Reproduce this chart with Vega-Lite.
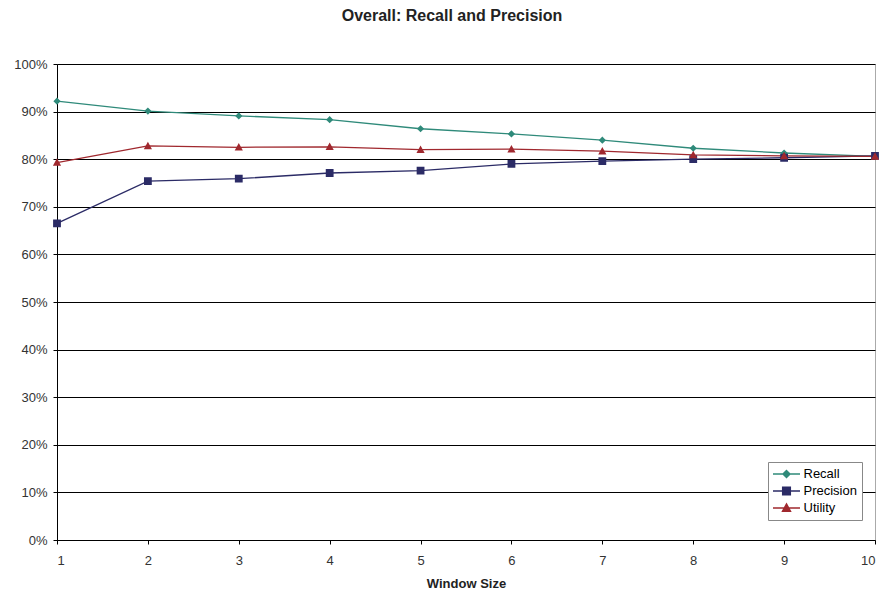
{
  "$schema": "https://vega.github.io/schema/vega-lite/v6.json",
  "autosize": "none",
  "width": 818,
  "height": 476,
  "padding": {"left": 57, "top": 64, "right": 10, "bottom": 52},
  "background": "white",
  "title": {
    "text": "Overall: Recall and Precision",
    "font": "Liberation Sans",
    "fontSize": 16,
    "fontWeight": "bold",
    "color": "#222222",
    "anchor": "middle",
    "dx": -14,
    "offset": 34
  },
  "config": {
    "view": {"stroke": "#aaaaaa", "strokeWidth": 1},
    "axis": {
      "labelFont": "Liberation Sans",
      "labelFontSize": 13,
      "labelColor": "#333333",
      "titleFont": "Liberation Sans",
      "titleFontSize": 13,
      "titleFontWeight": "bold",
      "titleColor": "#222222",
      "domainColor": "#000000",
      "tickColor": "#000000",
      "tickSize": 4
    }
  },
  "data": {
    "values": [
      {"window": 1, "series": "Recall", "value": 0.922},
      {"window": 2, "series": "Recall", "value": 0.901},
      {"window": 3, "series": "Recall", "value": 0.891},
      {"window": 4, "series": "Recall", "value": 0.883},
      {"window": 5, "series": "Recall", "value": 0.864},
      {"window": 6, "series": "Recall", "value": 0.853},
      {"window": 7, "series": "Recall", "value": 0.840},
      {"window": 8, "series": "Recall", "value": 0.823},
      {"window": 9, "series": "Recall", "value": 0.813},
      {"window": 10, "series": "Recall", "value": 0.806},
      {"window": 1, "series": "Precision", "value": 0.665},
      {"window": 2, "series": "Precision", "value": 0.754},
      {"window": 3, "series": "Precision", "value": 0.759},
      {"window": 4, "series": "Precision", "value": 0.771},
      {"window": 5, "series": "Precision", "value": 0.776},
      {"window": 6, "series": "Precision", "value": 0.790},
      {"window": 7, "series": "Precision", "value": 0.796},
      {"window": 8, "series": "Precision", "value": 0.800},
      {"window": 9, "series": "Precision", "value": 0.803},
      {"window": 10, "series": "Precision", "value": 0.807},
      {"window": 1, "series": "Utility", "value": 0.793},
      {"window": 2, "series": "Utility", "value": 0.828},
      {"window": 3, "series": "Utility", "value": 0.825},
      {"window": 4, "series": "Utility", "value": 0.826},
      {"window": 5, "series": "Utility", "value": 0.820},
      {"window": 6, "series": "Utility", "value": 0.821},
      {"window": 7, "series": "Utility", "value": 0.817},
      {"window": 8, "series": "Utility", "value": 0.809},
      {"window": 9, "series": "Utility", "value": 0.807},
      {"window": 10, "series": "Utility", "value": 0.806}
    ]
  },
  "encoding": {
    "x": {
      "field": "window",
      "type": "quantitative",
      "scale": {"domain": [1, 10], "nice": false},
      "axis": {
        "title": "Window Size",
        "values": [1, 2, 3, 4, 5, 6, 7, 8, 9, 10],
        "format": "d",
        "grid": false,
        "labelPadding": 10,
        "titlePadding": 10
      }
    },
    "y": {
      "field": "value",
      "type": "quantitative",
      "scale": {"domain": [0, 1], "nice": false},
      "axis": {
        "title": null,
        "values": [0, 0.1, 0.2, 0.3, 0.4, 0.5, 0.6, 0.7, 0.8, 0.9, 1],
        "format": ".0%",
        "grid": true,
        "gridColor": "#000000",
        "gridWidth": 1,
        "labelPadding": 6
      }
    },
    "color": {
      "field": "series",
      "type": "nominal",
      "sort": ["Recall", "Precision", "Utility"],
      "scale": {
        "domain": ["Recall", "Precision", "Utility"],
        "range": ["#2f8a7a", "#2b2b66", "#a0282e"]
      },
      "legend": {
        "title": null,
        "orient": "none",
        "legendX": 711,
        "legendY": 398,
        "padding": 5,
        "strokeColor": "#888888",
        "fillColor": "#ffffff",
        "labelFont": "Liberation Sans",
        "labelFontSize": 13,
        "labelColor": "#000000",
        "symbolOffset": 6.5,
        "labelOffset": 10,
        "rowPadding": 3,
        "symbolSize": 144,
        "symbolStrokeWidth": 1.3
      }
    },
    "shape": {
      "field": "series",
      "type": "nominal",
      "scale": {
        "domain": ["Recall", "Precision", "Utility"],
        "range": [
          "M-2.25,0H2.25M0,-0.6L0.6,0L0,0.6L-0.6,0Z",
          "M-2.25,0H2.25M-0.65,-0.65H0.65V0.65H-0.65Z",
          "M-2.25,0H2.25M0,-0.7L0.68,0.55H-0.68Z"
        ]
      }
    }
  },
  "layer": [
    {
      "mark": {"type": "line", "strokeWidth": 1.3}
    },
    {
      "mark": {"type": "point", "filled": true, "opacity": 1, "strokeWidth": 0},
      "encoding": {
        "size": {"value": 144}
      }
    }
  ]
}
